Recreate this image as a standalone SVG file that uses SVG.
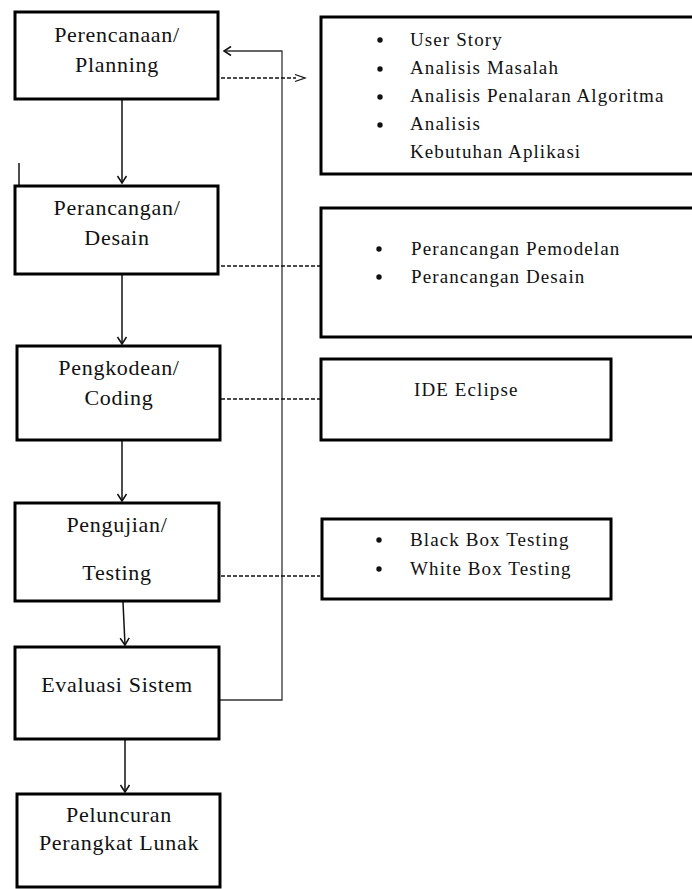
<svg xmlns="http://www.w3.org/2000/svg" width="692" height="889" viewBox="0 0 692 889">
<defs>
<style>
.box{fill:#fff;stroke:#000;stroke-width:3}
.ln{fill:none;stroke:#111;stroke-width:1.5}
.fb{fill:none;stroke:#333;stroke-width:1.3}
.dash{fill:none;stroke:#111;stroke-width:1.3;stroke-dasharray:4 2}
.lt{font-family:"Liberation Serif",serif;font-size:22px;letter-spacing:0.7px;fill:#111;text-anchor:middle}
.rt{font-family:"Liberation Serif",serif;font-size:19px;letter-spacing:1.1px;fill:#111}
.bul{fill:#111}
</style>
<marker id="ah" markerWidth="12" markerHeight="12" refX="10" refY="6" orient="auto" markerUnits="userSpaceOnUse">
<path d="M3,1.5 L10,6 L3,10.5" fill="none" stroke="#111" stroke-width="1.5"/>
</marker>
</defs>
<rect width="692" height="889" fill="#fff"/>
<g id="connectors">
<line class="ln" x1="122" y1="100" x2="122" y2="183" marker-end="url(#ah)"/>
<line class="ln" x1="122" y1="275" x2="122" y2="344" marker-end="url(#ah)"/>
<line class="ln" x1="122" y1="441" x2="122" y2="501" marker-end="url(#ah)"/>
<line class="ln" x1="123" y1="602" x2="125" y2="645" marker-end="url(#ah)"/>
<line class="ln" x1="125" y1="740" x2="125" y2="792" marker-end="url(#ah)"/>
<polyline class="fb" points="220,700 282,700 282,51 224,51" marker-end="url(#ah)"/>
<line class="ln" x1="19" y1="163" x2="19" y2="185"/>
<line class="dash" x1="221" y1="78" x2="296" y2="78"/>
<path d="M295,74.5 L305,78 L295,81.5" fill="none" stroke="#111" stroke-width="1.3"/>
<line class="dash" x1="221" y1="266" x2="320" y2="266"/>
<line class="dash" x1="221" y1="399" x2="320" y2="399"/>
<line class="dash" x1="221" y1="576" x2="320" y2="576"/>
</g>
<g id="planning">
<rect class="box" x="15" y="12" width="203" height="87"/>
<text class="lt" x="117" y="42">Perencanaan/</text>
<text class="lt" x="117" y="72">Planning</text>
</g>
<g id="desain">
<rect class="box" x="15" y="186" width="203" height="88"/>
<text class="lt" x="117" y="215">Perancangan/</text>
<text class="lt" x="117" y="245">Desain</text>
</g>
<g id="coding">
<rect class="box" x="17" y="346" width="203" height="94"/>
<text class="lt" x="119" y="375">Pengkodean/</text>
<text class="lt" x="119" y="405">Coding</text>
</g>
<g id="testing">
<rect class="box" x="15" y="503" width="204" height="98"/>
<text class="lt" x="117" y="532">Pengujian/</text>
<text class="lt" x="117" y="580">Testing</text>
</g>
<g id="evaluasi">
<rect class="box" x="15" y="647" width="204" height="92"/>
<text class="lt" x="117" y="692">Evaluasi Sistem</text>
</g>
<g id="peluncuran">
<rect class="box" x="17" y="794" width="203" height="93"/>
<text class="lt" x="119" y="822">Peluncuran</text>
<text class="lt" x="119" y="850">Perangkat Lunak</text>
</g>
<g id="ket-planning">
<rect class="box" x="321" y="17" width="380" height="157"/>
<circle class="bul" cx="380" cy="40" r="2.7"/>
<circle class="bul" cx="380" cy="69" r="2.7"/>
<circle class="bul" cx="380" cy="97" r="2.7"/>
<circle class="bul" cx="380" cy="125" r="2.7"/>
<text class="rt" x="410" y="46">User Story</text>
<text class="rt" x="410" y="74">Analisis Masalah</text>
<text class="rt" x="410" y="102">Analisis Penalaran Algoritma</text>
<text class="rt" x="410" y="130">Analisis</text>
<text class="rt" x="410" y="158">Kebutuhan Aplikasi</text>
</g>
<g id="ket-desain">
<rect class="box" x="321" y="208" width="380" height="129"/>
<circle class="bul" cx="379" cy="249" r="2.7"/>
<circle class="bul" cx="379" cy="277" r="2.7"/>
<text class="rt" x="411" y="255">Perancangan Pemodelan</text>
<text class="rt" x="411" y="283">Perancangan Desain</text>
</g>
<g id="ket-coding">
<rect class="box" x="321" y="359" width="290" height="81"/>
<text class="rt" x="414" y="396">IDE Eclipse</text>
</g>
<g id="ket-testing">
<rect class="box" x="322" y="519" width="289" height="80"/>
<circle class="bul" cx="379" cy="540" r="2.7"/>
<circle class="bul" cx="379" cy="569" r="2.7"/>
<text class="rt" x="410" y="546">Black Box Testing</text>
<text class="rt" x="410" y="575">White Box Testing</text>
</g>
</svg>
